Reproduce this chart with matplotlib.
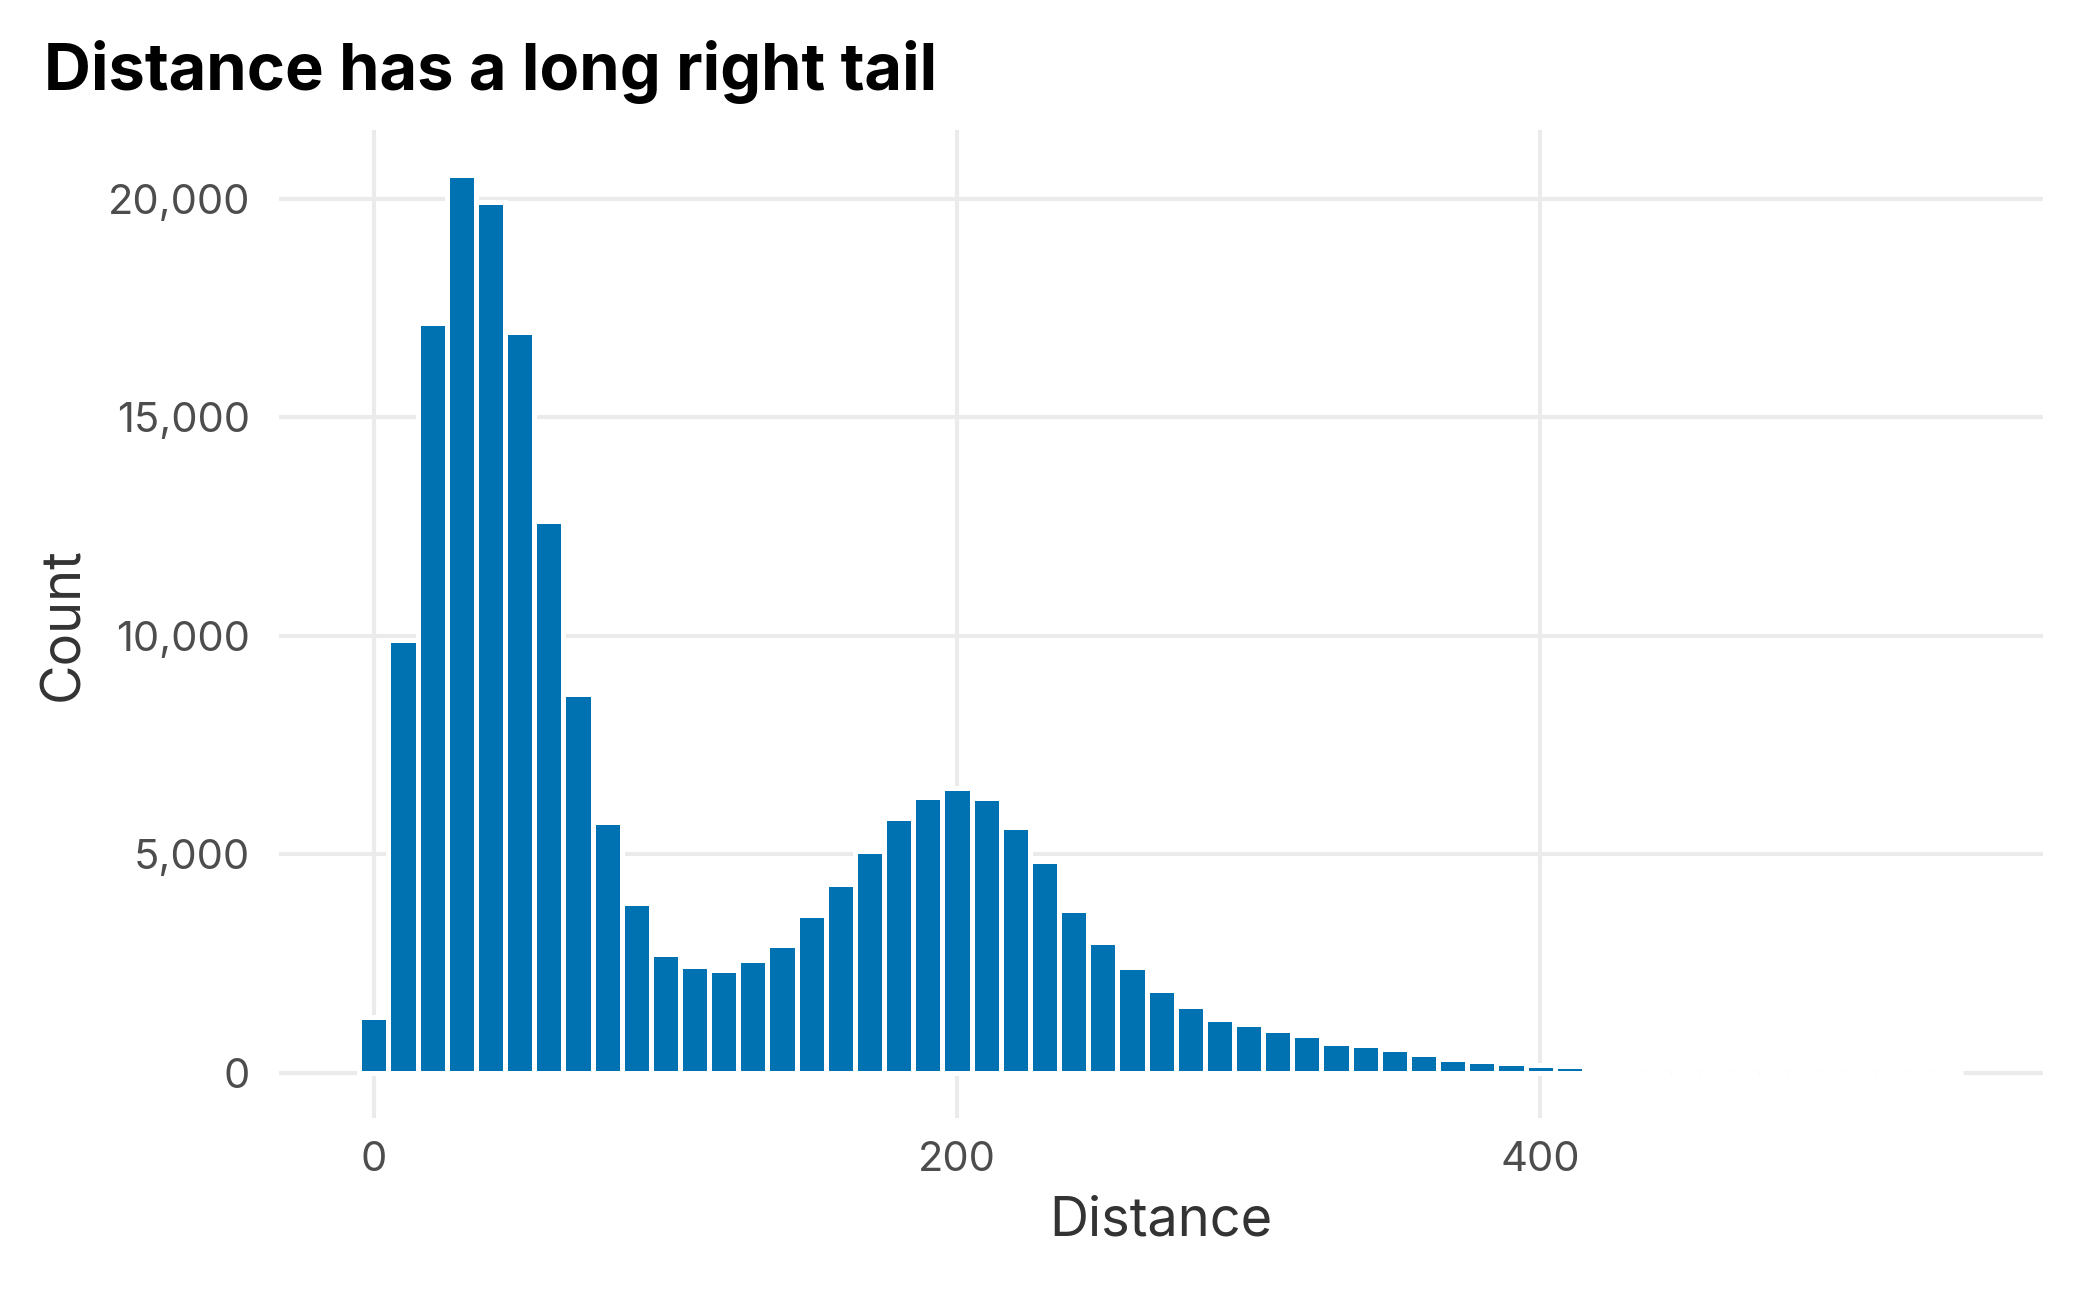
import matplotlib
matplotlib.use("Agg")
import matplotlib.pyplot as plt
from matplotlib.ticker import FuncFormatter

# histogram of distance, bins 10 wide centred on multiples of 10
bin_width = 10
bin_centers = list(range(0, 550, 10))
counts = [
    1290, 9910, 17160, 20540, 19920, 16940, 12620, 8680, 5740, 3890,
    2720, 2450, 2360, 2590, 2940, 3610, 4320, 5090, 5840, 6310,
    6530, 6300, 5640, 4840, 3720, 3010, 2420, 1900, 1530, 1230,
    1130, 980, 863, 688, 643, 548, 448, 334, 281, 242,
    181, 166, 50, 14, 9, 6, 4, 3, 2, 2,
    1, 1, 0, 0, 1,
]
x_ticks = [0, 200, 400]
y_ticks = [0, 5000, 10000, 15000, 20000]

title = "Distance has a long right tail"
x_label = "Distance"
y_label = "Count"

BAR_COLOR = "#0072B2"
GRID_COLOR = "#EBEBEB"

plt.rcParams["font.family"] = ["Inter", "DejaVu Sans"]

fig = plt.figure(figsize=(7, 4.3), dpi=300)
ax = fig.add_axes([0.1329, 0.1333, 0.84, 0.7659])

ax.bar(bin_centers, counts, width=bin_width, color=BAR_COLOR,
       edgecolor="white", linewidth=1.2, zorder=3)

# ggplot-like 5% expansion
lo = bin_centers[0] - bin_width / 2
hi = bin_centers[-1] + bin_width / 2
pad = (hi - lo) * 0.05
ax.set_xlim(lo - pad, hi + pad)
ymax = max(counts)
ax.set_ylim(-ymax * 0.05, ymax * 1.05)

ax.set_xticks(x_ticks)
ax.set_yticks(y_ticks)
ax.yaxis.set_major_formatter(FuncFormatter(lambda v, p: f"{int(v):,}"))

ax.set_axisbelow(True)
ax.grid(True, color=GRID_COLOR, linewidth=1.0, zorder=0)
for s in ax.spines.values():
    s.set_visible(False)
ax.tick_params(length=0, labelsize=10, labelcolor="#4D4D4D")
ax.tick_params(axis="y", pad=7)
ax.tick_params(axis="x", pad=5.5)

ax.set_xlabel(x_label, fontsize=13, color="#333333", labelpad=4)
ax.set_ylabel(y_label, fontsize=13, color="#333333", labelpad=4.5)

fig.text(44 / 2100, 1 - 90 / 1290, title, fontsize=15.6, fontweight="bold",
         color="black", ha="left", va="baseline")

fig.savefig("out.png", dpi=300)
